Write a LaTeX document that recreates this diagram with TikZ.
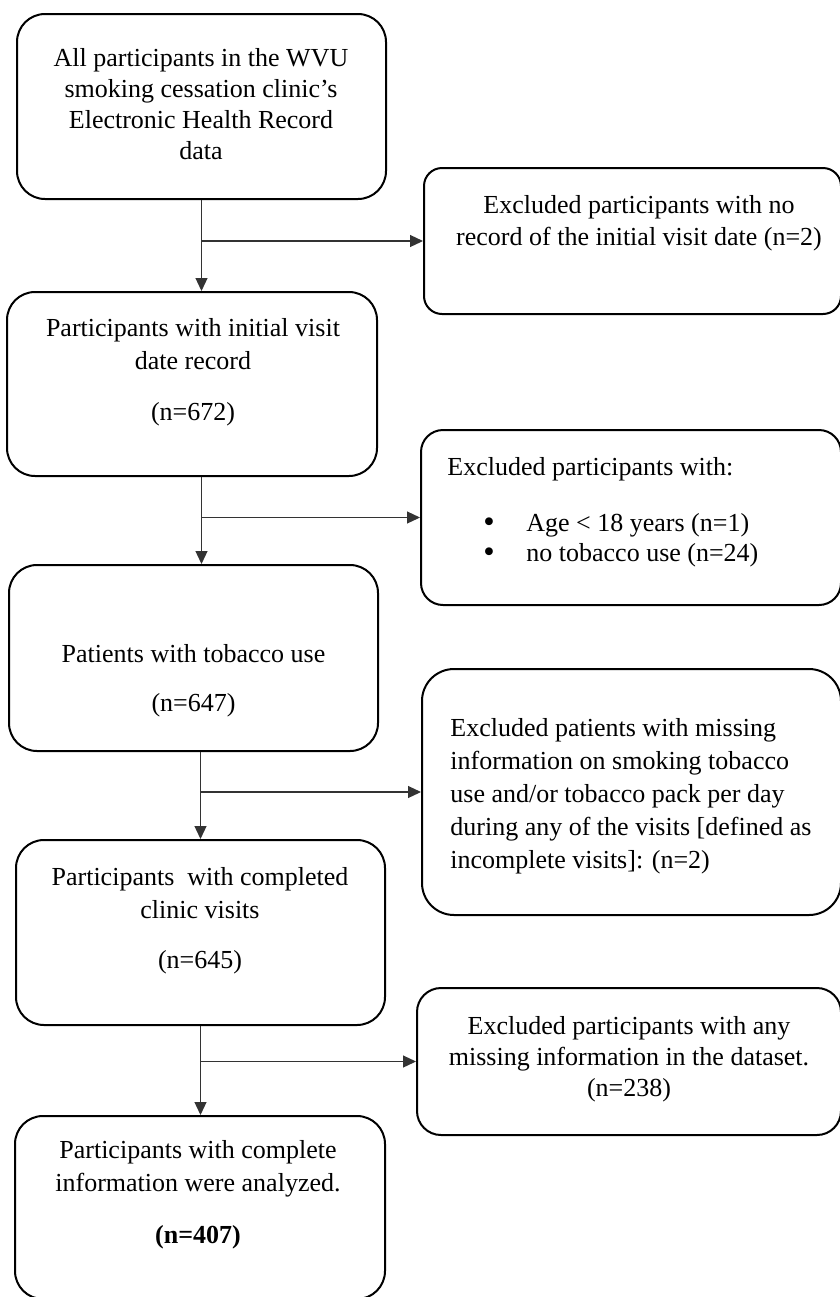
\documentclass[tikz,border=0pt]{standalone}
\usepackage{fontspec}
\setmainfont{Liberation Serif}
\usetikzlibrary{arrows.meta}

\begin{document}
\begin{tikzpicture}[
    x=0.5pt, y=-0.5pt,
    box/.style={rectangle, draw, rounded corners=14pt, line width=1pt, inner sep=0pt},
    txt/.style={font=\fontsize{13}{16.5}\selectfont, align=center, inner sep=0pt},
    arr/.style={-{Triangle[length=6.5pt, width=6pt]}, line width=0.6pt, draw=black!80},
  ]
    \useasboundingbox (0,0) rectangle (840,1297);

    % main column
    \node[box, minimum width=184.5pt, minimum height=92.5pt] (A) at (201.5,106.5) {};
    \node[box, minimum width=185pt, minimum height=92pt] (B) at (192,384) {};
    \node[box, minimum width=184.5pt, minimum height=93pt] (C) at (193.5,658) {};
    \node[box, minimum width=184.5pt, minimum height=92.5pt] (D) at (200.5,932.5) {};
    \node[box, minimum width=185pt, minimum height=91.5pt] (F) at (200,1207.5) {};

    % exclusions
    \node[box, rounded corners=9pt, minimum width=208.5pt, minimum height=73pt] (E1) at (632.5,241) {};
    \node[box, rounded corners=11pt, minimum width=210pt, minimum height=87.5pt] (E2) at (631,517.5) {};
    \node[box, rounded corners=16pt, minimum width=209.5pt, minimum height=123pt] (E3) at (631.5,792) {};
    \node[box, rounded corners=12pt, minimum width=212pt, minimum height=73.5pt] (E4) at (629,1061.5) {};

    % texts
    \node[txt, font=\fontsize{13}{15.5}\selectfont] (tA) at (201,104)
      {All participants in the WVU\\smoking cessation clinic’s\\Electronic Health Record\\data};
    \node[txt] (tB) at (193,372)
      {Participants with initial visit\\date record\\[9pt](n=672)};
    \node[txt] (tC) at (193.5,681)
      {Patients with tobacco use\\[8pt](n=647)};
    \node[txt] (tD) at (200,921)
      {Participants\ \ with completed\\clinic visits\\[8.5pt](n=645)};
    \node[txt] (tF) at (198,1195)
      {Participants with complete\\information were analyzed.\\[9.5pt]\textbf{(n=407)}};

    \node[txt, font=\fontsize{13}{16}\selectfont] (tE1) at (639,223.5)
      {Excluded participants with no\\record of the initial visit date (n=2)};
    \node[txt, align=left, anchor=west, font=\fontsize{13}{15}\selectfont] (tE2) at (447,512)
      {Excluded participants with:\\[13pt]
       \hspace*{18pt}\makebox[21.5pt][l]{\raisebox{-0.8pt}{\scalebox{1.25}{\textbullet}}}Age < 18 years (n=1)\\
       \hspace*{18pt}\makebox[21.5pt][l]{\raisebox{-0.8pt}{\scalebox{1.25}{\textbullet}}}no tobacco use (n=24)};
    \node[txt, align=left, anchor=west] (tE3) at (450,796.5)
      {Excluded patients with missing\\information on smoking tobacco\\use and/or tobacco pack per day\\during any of the visits [defined as\\incomplete visits]: (n=2)};
    \node[txt, font=\fontsize{13}{15.5}\selectfont] (tE4) at (629,1059)
      {Excluded participants with any\\missing information in the dataset.\\(n=238)};

    % connectors
    \draw[arr] (A.south) -- (A.south |- B.north);
    \draw[arr] (A.south |- E1.west) -- (E1.west);
    \draw[arr] (B.south -| A.south) -- (C.north -| A.south);
    \draw[arr] (A.south |- E2.west) -- (E2.west);
    \draw[arr] (C.south -| D.north) -- (D.north);
    \draw[arr] (D.north |- E3.west) -- (E3.west);
    \draw[arr] (D.south) -- (D.south |- F.north);
    \draw[arr] (D.south |- E4.west) -- (E4.west);
  \end{tikzpicture}
\end{document}
